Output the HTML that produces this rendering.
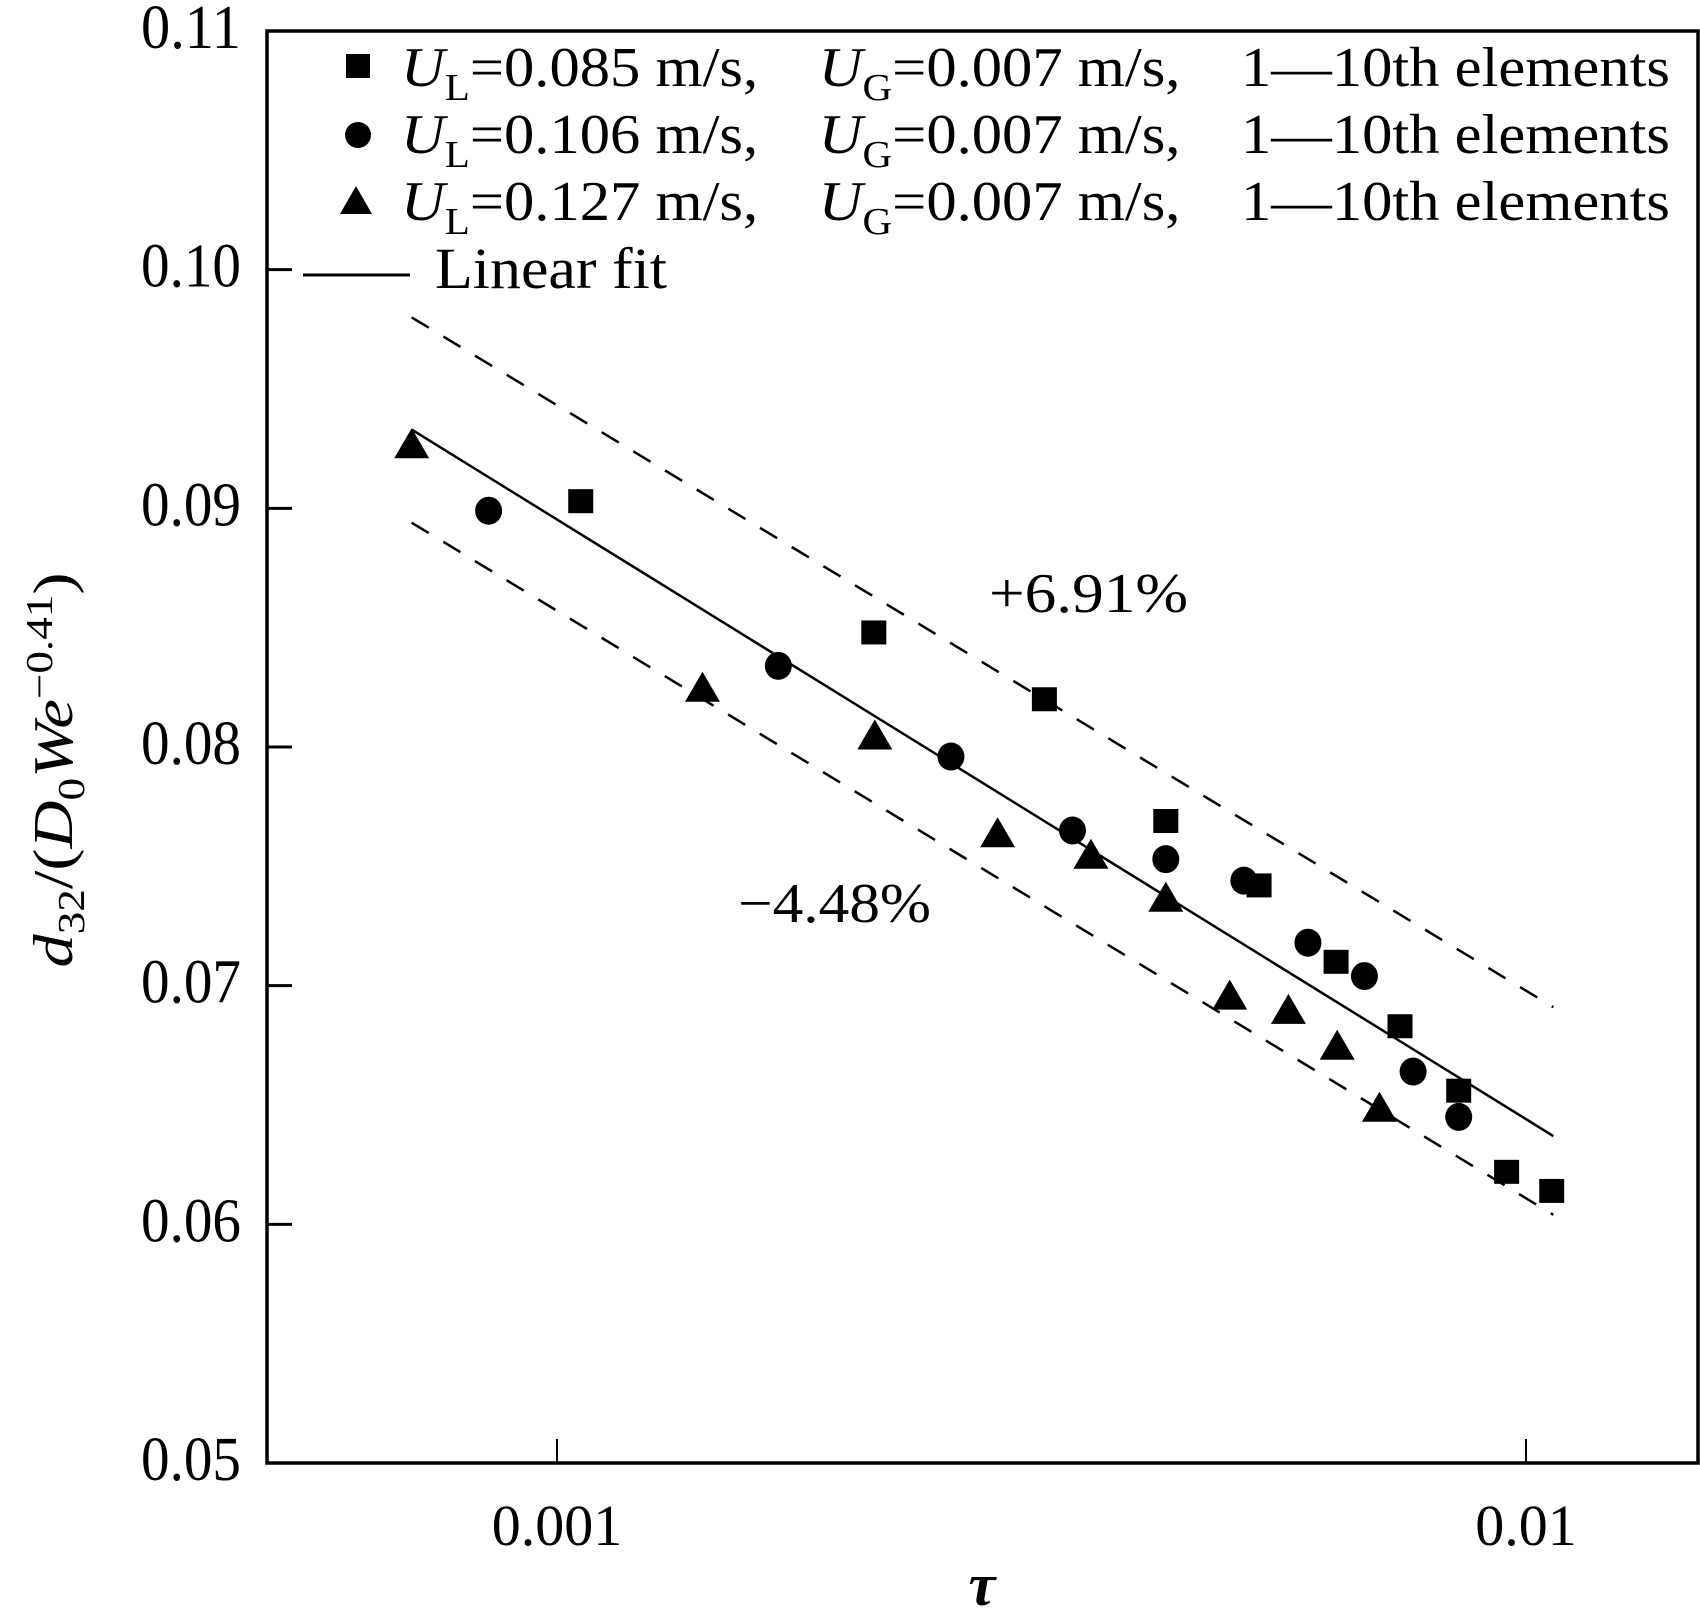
<!DOCTYPE html>
<html><head><meta charset="utf-8"><style>
html,body{margin:0;padding:0;background:#fff;}
svg{display:block;font-family:"Liberation Serif","DejaVu Serif",serif;}
</style></head><body>
<svg id="chart" width="1700" height="1621" viewBox="0 0 1700 1621" xmlns="http://www.w3.org/2000/svg">
<g id="plot"></g>
</svg>
<script>
const yTicks=[0.05,0.06,0.07,0.08,0.09,0.10,0.11];
const yTickLabels=["0.05","0.06","0.07","0.08","0.09","0.10","0.11"];
const xTicks=[0.001,0.01];
const xTickLabels=["0.001","0.01"];
const sqX=[0.001058,0.002123,0.003184,0.004249,0.005303,0.006368,0.007413,0.008522,0.00955,0.01063];
const sqY=[0.0903,0.0848,0.0820,0.0769,0.0742,0.0710,0.0683,0.0656,0.0622,0.0614];
const ciX=[0.000850,0.001692,0.002550,0.003404,0.004249,0.005115,0.005956,0.006812,0.007647,0.008522];
const ciY=[0.0899,0.0834,0.0796,0.0765,0.0753,0.0744,0.0718,0.0704,0.0664,0.0645];
const trX=[0.000708,0.001413,0.002128,0.002849,0.003556,0.004249,0.004946,0.005686,0.006385,0.007060];
const trY=[0.0926,0.0824,0.0804,0.0763,0.0754,0.0736,0.0695,0.0689,0.0674,0.0648];
const fitX=[0.000708,0.01067];
const fitY=[0.0933,0.0637];
const upY=[0.0980,0.0691];
const loY=[0.0894,0.0604];

const NS="http://www.w3.org/2000/svg";
const L=267,R=1698,T=31,B=1463;
function xs(v){return 557+(Math.log10(v)+3)*969;}
function ys(v){return B-(v-0.05)/0.06*(B-T);}
const g=document.getElementById('plot');
function mk(tag,attrs,parent){const e=document.createElementNS(NS,tag);for(const k in attrs)e.setAttribute(k,attrs[k]);(parent||g).appendChild(e);return e;}

let fr=mk('rect',{x:L,y:T,width:R-L,height:B-T,fill:'none',stroke:'#000','stroke-width':3.5});



yTicks.forEach((v,i)=>{
  const y=ys(v);
  let t=mk('line',{x1:L,y1:y,x2:L+25,y2:y,stroke:'#000','stroke-width':3});
  
  
  let tx=mk('text',{x:241,y:y+17,'text-anchor':'end','font-size':62,textLength:100,lengthAdjust:'spacingAndGlyphs'});
  tx.textContent=yTickLabels[i];
  
  
});
xTicks.forEach((v,i)=>{
  const x=xs(v);
  let t=mk('line',{x1:x,y1:B,x2:x,y2:B-24,stroke:'#000','stroke-width':2});
  
  
  let tx=mk('text',{x:x,y:1545,'text-anchor':'middle','font-size':58});
  tx.textContent=xTickLabels[i];
  
  
});

function line(xa,ya,dash,name){
  let l=mk('line',{x1:xs(xa[0]),y1:ys(ya[0]),x2:xs(xa[1]),y2:ys(ya[1]),stroke:'#000','stroke-width':2.5});
  if(dash)l.setAttribute('stroke-dasharray','20 17');
  
  
}
line(fitX,fitY,false,'linear-fit-line');
line(fitX,upY,true,'upper-bound-line');
line(fitX,loY,true,'lower-bound-line');

sqX.forEach((v,i)=>{
  let m=mk('rect',{x:xs(v)-12.5,y:ys(sqY[i])-12,width:25,height:24,fill:'#000'});
  
  
});
ciX.forEach((v,i)=>{
  let m=mk('ellipse',{cx:xs(v),cy:ys(ciY[i]),rx:13.5,ry:14,fill:'#000'});
  
  
});
trX.forEach((v,i)=>{
  const x=xs(v),y=ys(trY[i]);
  let m=mk('polygon',{points:`${x-17.5},${y+12} ${x+17.5},${y+12} ${x},${y-18}`,fill:'#000'});
  
  
});
</script>
<svg style="position:absolute;left:0;top:0;font-family:'Liberation Serif','DejaVu Serif',serif" width="1700" height="1621" viewBox="0 0 1700 1621" xmlns="http://www.w3.org/2000/svg">
<g>
 <rect x="346" y="54" width="24" height="24" fill="#000"/>
 <text x="401" y="86" font-size="56" textLength="1269" lengthAdjust="spacingAndGlyphs" xml:space="preserve"><tspan font-style="italic">U</tspan><tspan font-size="38" dy="14">L</tspan><tspan dy="-14">=0.085 m/s,    </tspan><tspan font-style="italic">U</tspan><tspan font-size="38" dy="14">G</tspan><tspan dy="-14">=0.007 m/s,    1—10th elements</tspan></text>
 <circle cx="358" cy="135" r="13"/>
 <text x="401" y="153" font-size="56" textLength="1269" lengthAdjust="spacingAndGlyphs" xml:space="preserve"><tspan font-style="italic">U</tspan><tspan font-size="38" dy="14">L</tspan><tspan dy="-14">=0.106 m/s,    </tspan><tspan font-style="italic">U</tspan><tspan font-size="38" dy="14">G</tspan><tspan dy="-14">=0.007 m/s,    1—10th elements</tspan></text>
 <polygon points="340,214 372,214 356,186" fill="#000"/>
 <text x="401" y="220" font-size="56" textLength="1269" lengthAdjust="spacingAndGlyphs" xml:space="preserve"><tspan font-style="italic">U</tspan><tspan font-size="38" dy="14">L</tspan><tspan dy="-14">=0.127 m/s,    </tspan><tspan font-style="italic">U</tspan><tspan font-size="38" dy="14">G</tspan><tspan dy="-14">=0.007 m/s,    1—10th elements</tspan></text>
 <line x1="303" y1="275" x2="410" y2="275" stroke="#000" stroke-width="3"/>
 <text x="435" y="288" font-size="58" textLength="232" lengthAdjust="spacingAndGlyphs">Linear fit</text>
</g>
<text x="989" y="612" font-size="56" textLength="199" lengthAdjust="spacingAndGlyphs">+6.91%</text>
<text x="738" y="922" font-size="56" textLength="193" lengthAdjust="spacingAndGlyphs">−4.48%</text>
<text x="982" y="1605" text-anchor="middle" font-size="60" font-style="italic" font-weight="bold">τ</text>
<text transform="translate(72,770) rotate(-90)" text-anchor="middle" font-size="56" textLength="395" lengthAdjust="spacingAndGlyphs"><tspan font-style="italic">d</tspan><tspan font-size="38" dy="12">32</tspan><tspan dy="-12">/(</tspan><tspan font-style="italic">D</tspan><tspan font-size="38" dy="12">0</tspan><tspan dy="-12" font-style="italic">We</tspan><tspan font-size="38" dy="-20">−0.41</tspan><tspan dy="20">)</tspan></text>
</svg>
</body></html>
